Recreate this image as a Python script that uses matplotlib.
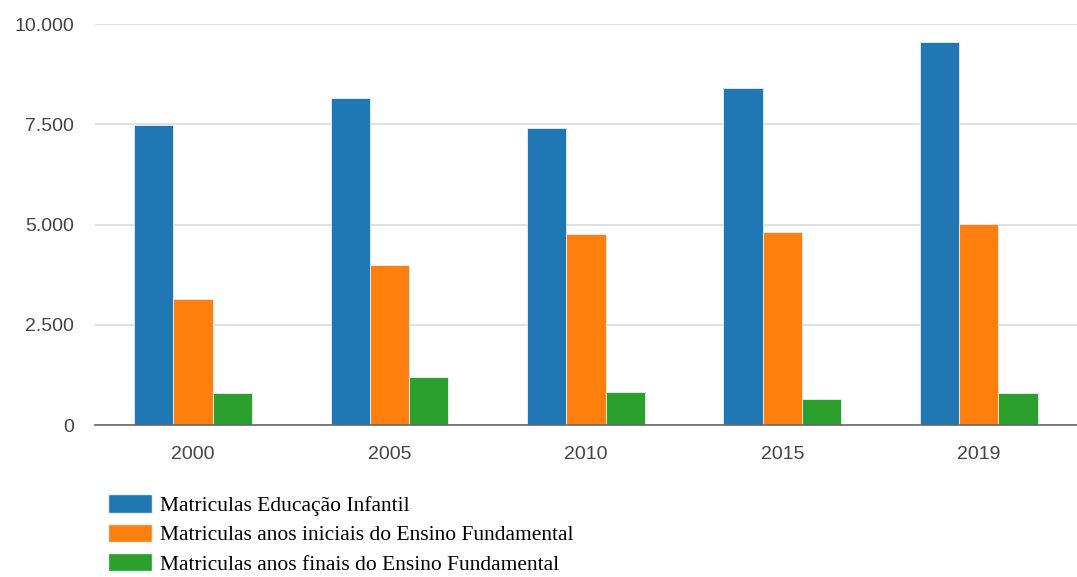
import numpy as np
import matplotlib.pyplot as plt
from matplotlib.patches import Patch
from matplotlib.ticker import FuncFormatter

# dados
anos = ['2000', '2005', '2010', '2015', '2019']
infantil = [7480, 8160, 7410, 8410, 9550]
iniciais = [3140, 3990, 4760, 4810, 5030]
finais = [800, 1200, 820, 650, 800]

series = ['Matriculas Educação Infantil',
          'Matriculas anos iniciais do Ensino Fundamental',
          'Matriculas anos finais do Ensino Fundamental']
cores = ['#1f77b4', '#ff7f0e', '#2ca02c']

fig = plt.figure(figsize=(10.77, 5.77), dpi=100)
ax = fig.add_axes([0.088, 0.263, 0.912, 0.695])

x = np.arange(len(anos))
w = 0.2
for i, (vals, cor) in enumerate(zip([infantil, iniciais, finais], cores)):
    ax.bar(x + (i - 1) * w, vals, width=w, color=cor, edgecolor='#e8f0f8',
           linewidth=0.6, zorder=3)

ax.set_xlim(-0.5, len(anos) - 0.5)
ax.set_ylim(0, 10000)
ax.set_yticks([0, 2500, 5000, 7500, 10000])
ax.yaxis.set_major_formatter(FuncFormatter(lambda v, p: f'{int(v):,}'.replace(',', '.')))
ax.set_xticks(x)
ax.set_xticklabels(anos)
ax.grid(axis='y', color='#dcdcdc', linewidth=1.2, zorder=0)
for s in ['top', 'right', 'left']:
    ax.spines[s].set_visible(False)
ax.spines['bottom'].set_color('#666666')
ax.spines['bottom'].set_linewidth(1.2)
ax.spines['bottom'].set_zorder(4)
ax.tick_params(length=0, labelsize=14, labelcolor='#444444', labelfontfamily='Liberation Sans')
ax.tick_params(axis='y', pad=15)
ax.tick_params(axis='x', pad=15)

handles = [Patch(facecolor=c, edgecolor='#e8f0f8') for c in cores]
fig.legend(handles, series, loc='upper left', bbox_to_anchor=(0.1, 0.143),
           frameon=False, prop={'family': 'Liberation Serif', 'size': 15.5},
           handlelength=2.05, handleheight=0.95, labelspacing=0.35,
           handletextpad=0.37, borderaxespad=0, borderpad=0)

fig.savefig('out.png', dpi=100)
